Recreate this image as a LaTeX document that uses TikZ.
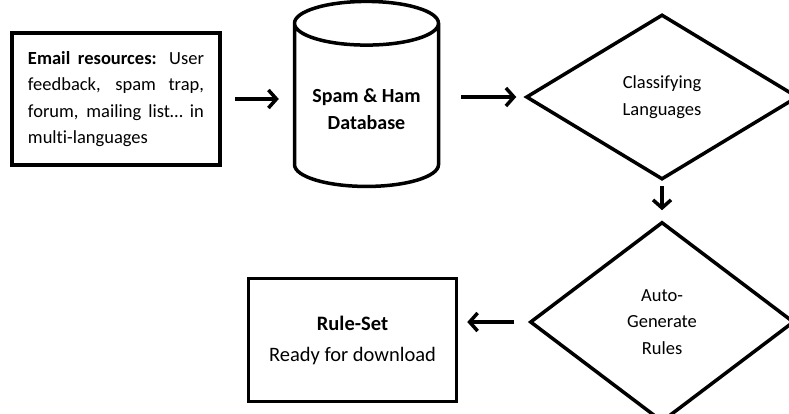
\documentclass[tikz,border=0pt]{standalone}
\usepackage{fontspec}
\setmainfont{Carlito}[Ligatures=NoCommon]
\usetikzlibrary{shapes.geometric, arrows.meta, positioning, calc}

\begin{document}
\begin{tikzpicture} [
    every node/.style={font=\fontsize{18.5}{26.5}\selectfont},
    source/.style={rectangle, draw=black, line width=3.5pt, minimum width=208pt, minimum height=132pt, text width=176pt, align=justify},
    database/.style={cylinder, shape border rotate=90, aspect=0.38, draw=black, line width=3.5pt, minimum width=144pt, minimum height=185pt, font=\bfseries\fontsize{20}{27}\selectfont, align=center},
    decision/.style={diamond, draw=black, line width=3.5pt, aspect=1.65, minimum width=272pt, minimum height=165pt, align=center, inner sep=0pt},
    result/.style={rectangle, draw=black, line width=3.5pt, minimum width=208pt, minimum height=123pt, align=center, font=\fontsize{20.5}{31}\selectfont},
    arrow/.style={-{Straight Barb[length=8pt, width=18pt]}, line width=3.5pt}
]

% page size of the figure
\useasboundingbox (-116pt,99pt) rectangle (673pt,-314pt);

% Nodes
\node[source] (email) {\textbf{Email resources:} User\linebreak feedback, spam trap,\linebreak forum, mailing list… in\linebreak multi-languages};
\node[database, right=71pt of email, yshift=-10pt] (db) {Spam \& Ham\\Database};
\node[decision, right=84pt of db, yshift=12pt] (classify) {Classifying\\Languages};
\node[decision, below=39pt of classify, aspect=1.32, minimum width=264pt, minimum height=200pt] (autogen) {Auto-\\Generate\\Rules};
\node[result, left=70pt of autogen, yshift=-18pt] (ruleset) {\textbf{Rule-Set}\\Ready for download};

% Arrows
\draw[arrow, shorten <=13pt, shorten >=14pt] (email) -- (email -| db.west);
\draw[arrow, shorten <=21pt, shorten >=8pt] (db.east |- classify) -- (classify);
\draw[arrow, shorten <=5pt, shorten >=10pt] (classify) -- (autogen);
\draw[arrow, shorten <=14pt, shorten >=9pt] (autogen.west) -- (autogen.west -| ruleset.east);

\end{tikzpicture}
\end{document}
